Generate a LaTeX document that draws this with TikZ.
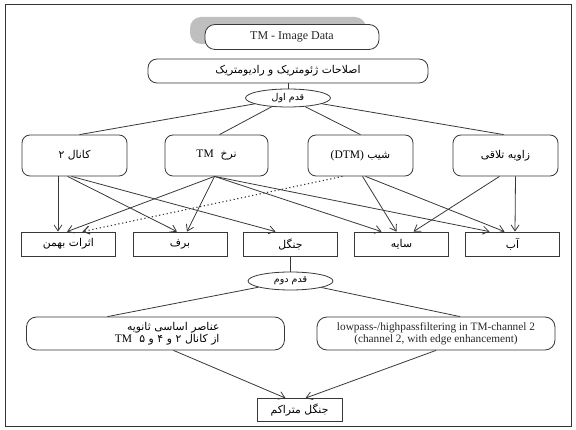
\documentclass[tikz,border=0pt]{standalone}
\usepackage{fontspec}
\setmainfont{Liberation Serif}
\newfontfamily\arabicfont[Script=Arabic]{DejaVu Sans}
\usetikzlibrary{shapes.geometric,arrows.meta,calc}
\TeXXeTstate=1
\newcommand\pers[1]{{\arabicfont\beginR #1\endR}}
\newcommand\lat[1]{\beginL{\rmfamily\fontsize{11.5}{13}\selectfont #1}\endL}
\begin{document}
\begin{tikzpicture}[x=1pt,y=-1pt,
  ln/.style={draw=black!78, line width=0.8pt},
  rbox/.style={ln, rounded corners=8pt, fill=white, inner sep=2pt},
  sbox/.style={ln, fill=white, inner sep=2pt},
  oval/.style={ln, ellipse, fill=white, inner sep=0pt, minimum width=85pt, minimum height=18pt},
  arr/.style={ln, -{Straight Barb[length=6pt,width=8pt]}},
  dotarr/.style={arr, line width=1.1pt, dash pattern=on 1.2pt off 2.6pt},
  fa/.style={font=\arabicfont\fontsize{10.8}{14}\selectfont},
  en/.style={font=\fontsize{11.3}{13.5}\selectfont, text=black!85},
  topbox/.style={rbox, fa, minimum width=105pt, minimum height=41pt},
  botbox/.style={sbox, fa, minimum width=94pt, minimum height=24pt},
]
\useasboundingbox (0,0) rectangle (576,430);
\draw[line width=1pt, black!80] (5,5) rectangle (571,426);

% title with shadow
\fill[gray!50, rounded corners=11pt] (190,17) rectangle (366,44);
\node[rbox, en, font=\fontsize{12}{14}\selectfont, rounded corners=10pt, minimum width=174pt, minimum height=25pt] (tm) at (292,37) {TM - Image Data};
\node[rbox, fa, rounded corners=9pt, minimum width=280pt, minimum height=24pt] (geo) at (288,71) {\pers{اصلاحات ژئومتریک و رادیومتریک}};
\node[oval, fa, font=\arabicfont\fontsize{9.5}{12}\selectfont] (q1) at (288,98) {\pers{قدم اول}};

% first row
\node[topbox] (k2) at (74.5,155.5) {\pers{کانال ۲}};
\node[topbox, minimum width=103pt] (nrx) at (216.5,155.5) {\pers{نرخ\ \ \lat{TM}}};
\node[topbox] (shb) at (360.5,155.5) {\pers{شیب \lat{(DTM)}}};
\node[topbox] (zav) at (505.5,155.5) {\pers{زاویه تلاقی}};

% second row
\node[botbox] (asr) at (68.5,244) {\pers{اثرات بهمن}};
\node[botbox] (brf) at (180,244) {\pers{برف}};
\node[botbox] (jng) at (290.5,244) {\pers{جنگل}};
\node[botbox] (say) at (401.5,244) {\pers{سایه}};
\node[botbox] (ab) at (512.5,244) {\pers{آب}};

\node[oval, fa, font=\arabicfont\fontsize{9.5}{12}\selectfont] (q2) at (290.5,281) {\pers{قدم دوم}};

\node[rbox, fa, align=right, rounded corners=10pt, minimum width=258pt, minimum height=33pt, text width=128pt, inner sep=1pt] (lb) at (155.5,333.5)
  {\pers{عناصر اساسی ثانویه}\\[-2pt]\pers{از کانال ۲ و ۴ و ۵\ \ \lat{TM}}};
\node[rbox, en, align=center, rounded corners=10pt, minimum width=238pt, minimum height=33pt, inner sep=1pt] (rb) at (436,333.5)
  {lowpass-/highpassfiltering in TM-channel 2\\[-1pt](channel 2, with edge enhancement)};
\node[sbox, fa, minimum width=85pt, minimum height=23pt] (fin) at (299.5,410) {\pers{جنگل متراکم}};

% top connectors
\draw[ln] (geo) -- (q1);
\draw[ln] (q1) -- ([xshift=5pt]k2.north);
\draw[ln] (q1) -- ([xshift=3pt]nrx.north);
\draw[ln] (q1) -- (shb.north);
\draw[ln] (q1) -- ([xshift=-2pt]zav.north);

% middle arrows
\draw[arr] ([xshift=-16.5pt]k2.south) -- ([xshift=-10.5pt]asr.north);
\draw[arr] ([xshift=-7pt]k2.south) -- ([xshift=-3pt]brf.north);
\draw[arr] ([xshift=-3pt]k2.south) -- ([xshift=-15pt]jng.north);
\draw[arr] ([xshift=-2pt]nrx.south) -- ([xshift=-1.5pt]asr.north);
\draw[arr] ([xshift=-2pt]nrx.south) -- ([xshift=7pt]brf.north);
\draw[arr] ([xshift=-2pt]nrx.south) -- ([xshift=-20pt]say.north);
\draw[arr] ([xshift=-2pt]nrx.south) -- ([xshift=-23pt]ab.north);
\draw[dotarr] ([xshift=-18pt]shb.south) -- ([xshift=14pt]asr.north);
\draw[arr] ([xshift=2pt]shb.south) -- ([xshift=-5pt]say.north);
\draw[arr] ([xshift=5pt]shb.south) -- ([xshift=-8pt]ab.north);
\draw[arr] ([xshift=-6pt]zav.south) -- ([xshift=12pt]say.north);
\draw[arr] ([xshift=10pt]zav.south) -- ([xshift=2.5pt]ab.north);

% bottom connectors
\draw[ln] (jng) -- (q2);
\draw[ln] (q2) -- ([xshift=-48pt]lb.north);
\draw[ln] (q2) -- ([xshift=24pt]rb.north);
\draw[arr] ([xshift=18pt]lb.south) -- ([xshift=-14pt]fin.north);
\draw[arr] ([xshift=0pt]rb.south) -- ([xshift=6pt]fin.north);
\end{tikzpicture}
\end{document}
